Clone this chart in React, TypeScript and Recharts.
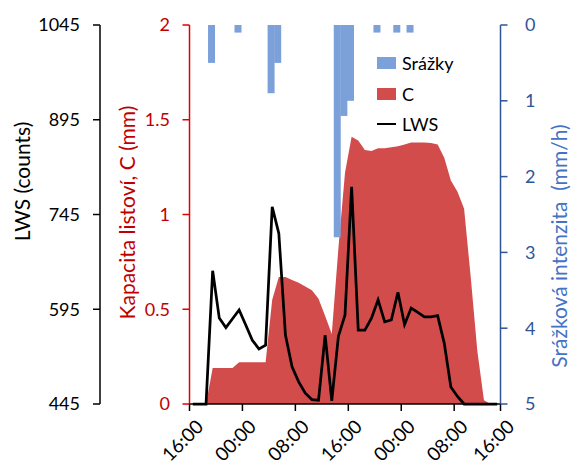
import { ComposedChart, Area, Bar, Line, XAxis, YAxis, Legend } from "recharts";

// hourly readings starting 16:00
const LWS_COUNTS = [
  445, 445, 445, 656, 581, 566, 580, 594, 570, 546, 532, 538, 757, 715, 554, 504,
  480, 462, 452, 451, 554, 450, 552, 586, 789, 562, 562, 581, 610, 575, 578, 622,
  571, 597, 590, 583, 583, 585, 541, 472, 457, 445, 445, 445, 445, 445, 445,
];
const CAPACITY = [
  0, 0, 0, 0.19, 0.19, 0.19, 0.19, 0.22, 0.22, 0.22, 0.22, 0.22, 0.55, 0.67, 0.67, 0.655,
  0.64, 0.62, 0.6, 0.555, 0.465, 0.37, 0.82, 1.22, 1.41, 1.39, 1.34, 1.335, 1.35, 1.35, 1.355, 1.36,
  1.37, 1.38, 1.38, 1.38, 1.377, 1.37, 1.3, 1.18, 1.12, 1.03, 0.67, 0.28, 0.02, 0, 0,
];
const RAIN = [
  0, 0, 0, 0.5, 0, 0, 0, 0.1, 0, 0, 0, 0, 0.9, 0.5, 0, 0,
  0, 0, 0, 0, 0, 0, 2.8, 1.2, 1.0, 0, 0, 0, 0.1, 0, 0, 0.1,
  0, 0.1, 0, 0, 0, 0, 0, 0, 0, 0, 0, 0, 0, 0, 0,
];
const TIME_LABELS = ["16:00", "00:00", "08:00", "16:00", "00:00", "08:00", "16:00"];
const LWS_TICKS = [445, 595, 745, 895, 1045];
const C_TICKS = [0, 0.5, 1, 1.5, 2];
const RAIN_TICKS = [0, 1, 2, 3, 4, 5];

const HOURS = LWS_COUNTS.length;
const TIME_TICKS = TIME_LABELS.map((_, k) => Math.min(k * 8, HOURS) - 0.5);

const data = LWS_COUNTS.map((lws, i) => ({
  hour: i,
  lws,
  c: CAPACITY[i],
  rain: RAIN[i],
}));

const FONT = "Lato, 'Noto Sans', sans-serif";
const RED = "#D24C4C";
const RED_AXIS = "#C00000";
const BLUE = "#7BA0DA";
const BLUE_AXIS = "#2F5597";
const BLUE_TEXT = "#4472C4";

function TimeTick(props: any) {
  const { x, y, payload } = props;
  const k = TIME_TICKS.indexOf(payload.value);
  const px = x + 15;
  const py = y + 15;
  return (
    <text
      x={px}
      y={py}
      transform={`rotate(-45 ${px} ${py})`}
      textAnchor="end"
      fontSize={19}
      fontFamily={FONT}
      fill="#000"
    >
      {TIME_LABELS[k]}
    </text>
  );
}

function LegendBox() {
  const rows = [
    { name: "Srážky", kind: "box", color: BLUE, h: 32 },
    { name: "C", kind: "box", color: RED, h: 30 },
    { name: "LWS", kind: "line", color: "#000", h: 30 },
  ];
  return (
    <div style={{ fontFamily: FONT, fontSize: 18, color: "#000" }}>
      {rows.map((r) => (
        <div key={r.name} style={{ display: "flex", alignItems: "center", height: r.h }}>
          <span
            style={{
              display: "inline-block",
              width: 19,
              height: r.kind === "box" ? 12 : 2,
              background: r.color,
              marginRight: 6,
            }}
          />
          <span>{r.name}</span>
        </div>
      ))}
    </div>
  );
}

export default function App() {
  return (
    <div
      style={{
        position: "absolute",
        left: 0,
        top: 0,
        width: 572,
        height: 465,
        overflow: "hidden",
        background: "#fff",
      }}
    >
      <ComposedChart
        width={572}
        height={465}
        data={data}
        margin={{ top: 25, right: 0, bottom: 0, left: 0 }}
        barCategoryGap={0}
        barGap={0}
        style={{ fontFamily: FONT }}
      >
        <XAxis
          xAxisId="time"
          type="number"
          dataKey="hour"
          domain={[-0.5, HOURS - 0.5]}
          ticks={TIME_TICKS}
          interval={0}
          height={61}
          tickSize={7}
          axisLine={{ stroke: "#000", strokeWidth: 1.5 }}
          tickLine={{ stroke: "#000", strokeWidth: 1.5 }}
          tick={<TimeTick />}
        />
        <XAxis
          xAxisId="rainX"
          orientation="top"
          type="number"
          dataKey="hour"
          domain={[-0.3, HOURS - 0.3]}
          height={0}
          tick={false}
          tickLine={false}
          axisLine={{ stroke: "#000", strokeWidth: 1.5 }}
        />
        <YAxis
          yAxisId="c"
          orientation="left"
          width={89.5}
          domain={[0, 2]}
          ticks={C_TICKS}
          tickSize={7}
          tickMargin={12.5}
          axisLine={{ stroke: "#E00000", strokeWidth: 1.5 }}
          tickLine={{ stroke: "#E00000", strokeWidth: 1.5 }}
          tick={{ fill: RED_AXIS, fontSize: 18, fontFamily: FONT }}
          label={{
            value: "Kapacita listoví, C (mm)",
            angle: -90,
            position: "center",
            dx: -16.75,
            dy: -2,
            fill: RED_AXIS,
            fontSize: 21,
            fontFamily: FONT,
          }}
        />
        <YAxis
          yAxisId="lws"
          orientation="left"
          width={100}
          domain={[445, 1045]}
          ticks={LWS_TICKS}
          tickSize={7}
          tickMargin={13}
          axisLine={{ stroke: "#000", strokeWidth: 1.5 }}
          tickLine={{ stroke: "#000", strokeWidth: 1.5 }}
          tick={{ fill: "#000", fontSize: 18, fontFamily: FONT }}
          label={{
            value: "LWS (counts)",
            angle: -90,
            position: "center",
            dx: -27,
            dy: -33,
            fill: "#000",
            fontSize: 21,
            fontFamily: FONT,
          }}
        />
        <YAxis
          yAxisId="rain"
          orientation="right"
          width={71.5}
          domain={[0, 5]}
          reversed
          ticks={RAIN_TICKS}
          tickSize={7}
          tickMargin={17.5}
          axisLine={{ stroke: BLUE_AXIS, strokeWidth: 1.5 }}
          tickLine={{ stroke: BLUE_AXIS, strokeWidth: 1.5 }}
          tick={{ fill: BLUE_AXIS, fontSize: 18, fontFamily: FONT, textAnchor: "start" }}
          label={{
            value: "Srážková intenzita\u00A0 (mm/h)",
            angle: -90,
            position: "center",
            dx: 23.5,
            dy: 31.5,
            fill: BLUE_TEXT,
            fontSize: 21,
            fontFamily: FONT,
          }}
        />
        <Area
          xAxisId="time"
          yAxisId="c"
          dataKey="c"
          name="C"
          type="linear"
          fill={RED}
          fillOpacity={1}
          stroke="none"
          isAnimationActive={false}
        />
        <Bar
          xAxisId="rainX"
          yAxisId="rain"
          dataKey="rain"
          name="Srážky"
          fill={BLUE}
          isAnimationActive={false}
        />
        <Line
          xAxisId="time"
          yAxisId="lws"
          dataKey="lws"
          name="LWS"
          type="linear"
          stroke="#000"
          strokeWidth={2.75}
          dot={false}
          isAnimationActive={false}
        />
        <Legend
          layout="vertical"
          align="center"
          verticalAlign="middle"
          content={<LegendBox />}
          wrapperStyle={{ left: 377, top: 47, width: "auto" }}
        />
      </ComposedChart>
    </div>
  );
}
